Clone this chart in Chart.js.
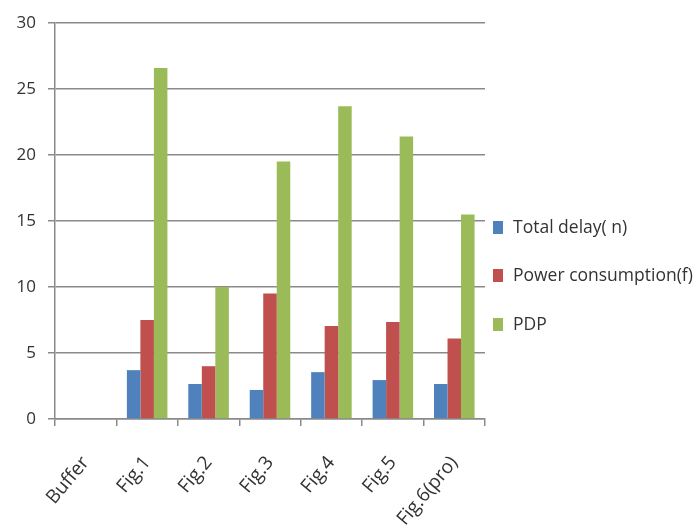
<!DOCTYPE html>
<html>
<head>
<meta charset="utf-8">
<script src="https://cdn.jsdelivr.net/npm/chart.js@4/dist/chart.umd.min.js"></script>
<style>
  html, body { margin: 0; padding: 0; background: #ffffff; }
  #wrap { width: 697px; height: 531px; }
</style>
</head>
<body>
<div id="wrap"><canvas id="c" width="697" height="531"></canvas></div>
<script>
// Categories and series
const categories = ['Buffer', 'Fig.1', 'Fig.2', 'Fig.3', 'Fig.4', 'Fig.5', 'Fig.6(pro)'];
const totalDelay = [0, 3.7, 2.65, 2.2, 3.55, 2.95, 2.65];
const powerConsumption = [0, 7.5, 4.0, 9.5, 7.05, 7.35, 6.1];
const pdp = [0, 26.6, 10.0, 19.5, 23.7, 21.4, 15.5];
const seriesNames = ['Total delay( n)', 'Power consumption(f)', 'PDP'];
const yTicks = [0, 5, 10, 15, 20, 25, 30];

const colors = ['#4F81BD', '#C0504D', '#9BBB59'];
const FONT = '"Open Sans", Lato, sans-serif';
const textColor = '#333333';
const axisColor = '#8a8a8a';

// Legend drawn on the right side, stacked with wide spacing
const sideLegend = {
  id: 'sideLegend',
  afterDraw(chart) {
    const ctx = chart.ctx;
    const x0 = chart.chartArea.right + 8;
    const rows = [228, 276, 325];
    ctx.save();
    ctx.font = '17.5px ' + FONT;
    ctx.textBaseline = 'middle';
    ctx.textAlign = 'left';
    chart.data.datasets.forEach((ds, i) => {
      const y = rows[i];
      ctx.fillStyle = ds.backgroundColor;
      ctx.fillRect(x0, y - 7, 10, 13);
      ctx.fillStyle = textColor;
      ctx.fillText(ds.label, x0 + 20, y);
    });
    ctx.restore();
  }
};

new Chart(document.getElementById('c'), {
  type: 'bar',
  data: {
    labels: categories,
    datasets: [
      { label: seriesNames[0], data: totalDelay, backgroundColor: colors[0] },
      { label: seriesNames[1], data: powerConsumption, backgroundColor: colors[1] },
      { label: seriesNames[2], data: pdp, backgroundColor: colors[2] }
    ]
  },
  options: {
    responsive: false,
    animation: false,
    devicePixelRatio: 1,
    layout: { padding: { top: 23, right: 212, left: 0, bottom: 0 } },
    datasets: {
      bar: { categoryPercentage: 0.66, barPercentage: 1.0, borderWidth: 0 }
    },
    plugins: {
      legend: { display: false },
      tooltip: { enabled: false }
    },
    scales: {
      x: {
        grid: {
          display: true,
          drawOnChartArea: false,
          drawTicks: true,
          tickLength: 7,
          color: axisColor,
          lineWidth: 1.5,
          offset: true
        },
        border: { display: true, color: axisColor, width: 1.5 },
        ticks: {
          color: textColor,
          font: { family: FONT, size: 19 },
          minRotation: 50,
          maxRotation: 50,
          padding: 26
        },
        afterFit(scale) { scale.height = 112; }
      },
      y: {
        min: 0,
        max: 30,
        afterBuildTicks(scale) { scale.ticks = yTicks.map(v => ({ value: v })); },
        grid: {
          color: axisColor,
          lineWidth: 1.5,
          drawTicks: true,
          tickLength: 7
        },
        border: { display: true, color: axisColor, width: 1.5 },
        ticks: {
          color: textColor,
          font: { family: FONT, size: 17 },
          padding: 12
        },
        afterFit(scale) { scale.width = 55; }
      }
    }
  },
  plugins: [sideLegend]
});
</script>
</body>
</html>
